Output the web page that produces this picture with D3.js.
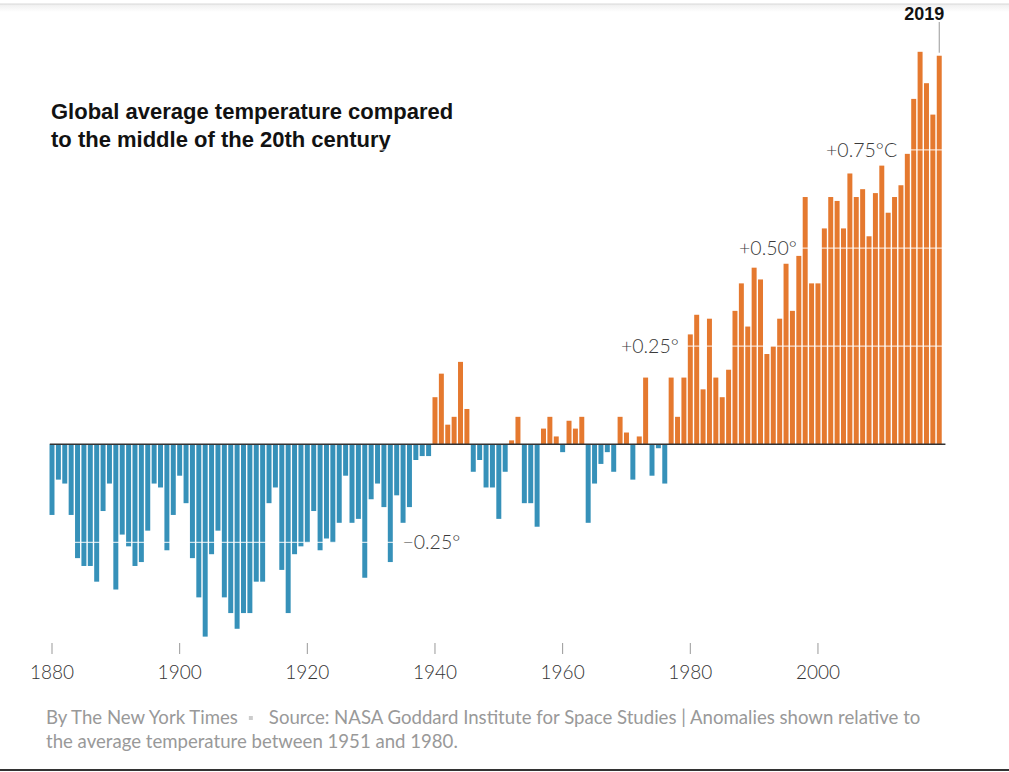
<!DOCTYPE html>
<html>
<head>
<meta charset="utf-8">
<script src="https://cdn.jsdelivr.net/npm/d3@7"></script>
<style>
  body { margin: 0; background: #fff; }
  svg { display: block; font-family: Lato, 'Liberation Sans', sans-serif; }
</style>
</head>
<body>
<svg width="1009" height="772"></svg>
<script>
// NASA GISS annual anomalies (°C vs 1951-1980)
const firstYear = 1880;
const lastYear = 2019;
const anomalies = [
  -0.18, -0.09, -0.10, -0.18, -0.29, -0.31, -0.31, -0.35, -0.17, -0.10, // 1880s
  -0.37, -0.23, -0.26, -0.31, -0.30, -0.22, -0.10, -0.11, -0.27, -0.18, // 1890s
  -0.08, -0.15, -0.29, -0.39, -0.49, -0.28, -0.22, -0.39, -0.43, -0.47, // 1900s
  -0.43, -0.43, -0.35, -0.35, -0.15, -0.11, -0.32, -0.43, -0.28, -0.26, // 1910s
  -0.25, -0.17, -0.27, -0.24, -0.25, -0.20, -0.08, -0.20, -0.19, -0.34, // 1920s
  -0.14, -0.10, -0.16, -0.30, -0.13, -0.20, -0.16, -0.04, -0.03, -0.03, // 1930s
  0.12, 0.18, 0.05, 0.07, 0.21, 0.09, -0.07, -0.04, -0.11, -0.11,       // 1940s
  -0.19, -0.07, 0.01, 0.07, -0.15, -0.15, -0.21, 0.04, 0.07, 0.02,      // 1950s
  -0.02, 0.06, 0.04, 0.07, -0.20, -0.10, -0.05, -0.02, -0.07, 0.07,     // 1960s
  0.03, -0.09, 0.02, 0.17, -0.08, -0.01, -0.10, 0.17, 0.07, 0.17,       // 1970s
  0.28, 0.33, 0.14, 0.32, 0.17, 0.12, 0.19, 0.34, 0.41, 0.30,           // 1980s
  0.45, 0.42, 0.23, 0.25, 0.32, 0.46, 0.34, 0.48, 0.63, 0.41,           // 1990s
  0.41, 0.55, 0.63, 0.62, 0.55, 0.69, 0.63, 0.65, 0.53, 0.64,           // 2000s
  0.71, 0.59, 0.63, 0.66, 0.74, 0.88, 1.00, 0.92, 0.84, 0.99            // 2010s
];
const years = d3.range(firstYear, lastYear + 1);
const xTicks = [1880, 1900, 1920, 1940, 1960, 1980, 2000];
const gridValues = [-0.25, 0.25, 0.5, 0.75];
const gridLabels = ['\u22120.25°', '+0.25°', '+0.50°', '+0.75°C'];

const titleLines = [
  'Global average temperature compared',
  'to the middle of the 20th century'
];
const credit = 'By The New York Times';
const sourceLines = [
  'Source: NASA Goddard Institute for Space Studies | Anomalies shown relative to',
  'the average temperature between 1951 and 1980.'
];

const data = years.map((year, i) => ({year, value: anomalies[i]}));

const svg = d3.select('svg');
const width = +svg.attr('width');

const warm = '#e5792f';
const cool = '#3691b9';

const step = 6.383;
const x = d3.scaleBand()
  .domain(years)
  .range([52 - step / 2, 52 - step / 2 + step * years.length])
  .paddingInner(0.22)
  .paddingOuter(0.11);
const xc = (year) => x(year) + x.bandwidth() / 2;

const y = d3.scaleLinear().domain([0, 1]).range([444.3, 51.8]);

// page frame: soft top rule and dark bottom rule
const shade = svg.append('defs').append('linearGradient')
  .attr('id', 'shade').attr('x1', 0).attr('x2', 0).attr('y1', 0).attr('y2', 1);
shade.append('stop').attr('offset', 0).attr('stop-color', '#eee');
shade.append('stop').attr('offset', 1).attr('stop-color', '#fff');
svg.append('rect').attr('x', 0).attr('y', 4).attr('width', width).attr('height', 8)
  .attr('fill', 'url(#shade)');
svg.append('line').attr('x1', 0).attr('x2', width).attr('y1', 4).attr('y2', 4)
  .attr('stroke', '#d8d8d8');
svg.append('line').attr('x1', 0).attr('x2', width).attr('y1', 770).attr('y2', 770)
  .attr('stroke', '#333').attr('stroke-width', 2);

// title
svg.append('text')
  .attr('x', 51).attr('y', 119)
  .attr('font-family', "'Liberation Sans', Arial, sans-serif")
  .attr('font-size', 22).attr('font-weight', 'bold').attr('fill', '#121212')
  .selectAll('tspan')
  .data(titleLines)
  .enter()
  .append('tspan')
  .attr('x', 51)
  .attr('dy', (d, i) => (i ? 28 : 0))
  .text((d) => d);

// bars
svg.append('g')
  .selectAll('rect')
  .data(data)
  .enter()
  .append('rect')
  .attr('x', (d) => x(d.year))
  .attr('width', x.bandwidth())
  .attr('y', (d) => Math.min(y(d.value), y(0)))
  .attr('height', (d) => Math.abs(y(d.value) - y(0)))
  .attr('fill', (d) => (d.value >= 0 ? warm : cool));

// white gridlines over the bars
const [r0, r1] = x.range();
svg.append('g')
  .selectAll('line')
  .data(gridValues)
  .enter()
  .append('line')
  .attr('x1', r0).attr('x2', r1)
  .attr('y1', (d) => y(d)).attr('y2', (d) => y(d))
  .attr('stroke', '#fff').attr('stroke-opacity', 0.75).attr('stroke-width', 1.2);

// gridline labels, placed in the gaps above/below the bars
const labelAnchor = [
  {year: 1934.9, anchor: 'start'},
  {year: 1978.2, anchor: 'end'},
  {year: 1996.7, anchor: 'end'},
  {year: 2012.4, anchor: 'end'}
];
const xYear = d3.scaleLinear().domain([1880, 2000]).range([xc(1880), xc(2000)]);
svg.append('g')
  .selectAll('text')
  .data(gridValues)
  .enter()
  .append('text')
  .attr('x', (d, i) => xYear(labelAnchor[i].year))
  .attr('y', (d) => y(d))
  .attr('dy', '0.36em')
  .attr('text-anchor', (d, i) => labelAnchor[i].anchor)
  .attr('font-size', 19.5).attr('font-weight', 300).attr('fill', '#3a3a3a')
  .text((d, i) => gridLabels[i]);

// zero baseline
svg.append('line')
  .attr('x1', r0 + 1).attr('x2', r1 + 3)
  .attr('y1', y(0)).attr('y2', y(0))
  .attr('stroke', '#333').attr('stroke-width', 1.6);

// 2019 callout
const last = data[data.length - 1];
svg.append('line')
  .attr('x1', xc(last.year)).attr('x2', xc(last.year))
  .attr('y1', 22).attr('y2', y(last.value) - 3)
  .attr('stroke', '#999');
svg.append('text')
  .attr('x', xc(last.year) + 5).attr('y', 20)
  .attr('text-anchor', 'end')
  .attr('font-family', "'Liberation Sans', Arial, sans-serif")
  .attr('font-size', 18).attr('font-weight', 'bold').attr('fill', '#121212')
  .text(last.year);

// x axis: short ticks and year labels
const axis = svg.append('g');
axis.selectAll('line')
  .data(xTicks)
  .enter()
  .append('line')
  .attr('x1', xc).attr('x2', xc)
  .attr('y1', 643).attr('y2', 654)
  .attr('stroke', '#999');
axis.selectAll('text')
  .data(xTicks)
  .enter()
  .append('text')
  .attr('x', xc)
  .attr('y', 679)
  .attr('text-anchor', 'middle')
  .attr('font-size', 19).attr('font-weight', 300).attr('fill', '#333')
  .text((d) => d);

// footnote
const foot = svg.append('g').attr('font-size', 18.6).attr('fill', '#999');
const creditText = foot.append('text').attr('x', 46).attr('y', 724).text(credit);
const cw = creditText.node().getComputedTextLength();
foot.append('rect')
  .attr('x', 46 + cw + 11).attr('y', 716)
  .attr('width', 4).attr('height', 4)
  .attr('fill', '#ccc');
foot.append('text').attr('x', 46 + cw + 31).attr('y', 724).text(sourceLines[0]);
foot.append('text').attr('x', 46).attr('y', 748).text(sourceLines[1]);
</script>
</body>
</html>
